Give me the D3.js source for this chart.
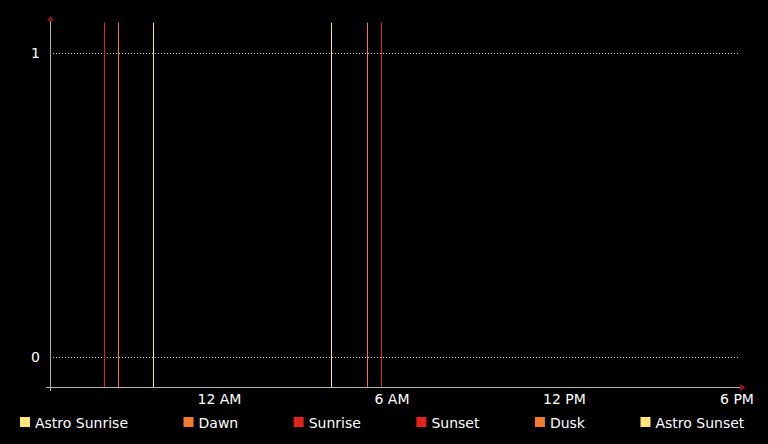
<!DOCTYPE html>
<html><head><meta charset="utf-8">
<script src="https://cdn.jsdelivr.net/npm/d3@7"></script>
<style>html,body{margin:0;padding:0;background:#000;}svg{display:block;}</style>
</head><body>
<svg id="c" width="768" height="444"></svg>
<script>
// ---- data ----
const seriesNames = ["Astro Sunrise","Dawn","Sunrise","Sunset","Dusk","Astro Sunset"];
const seriesColors = ["#ffe57a","#f47a30","#e2231a","#e8221b","#f47a30","#ffe57a"];
const eventTimes = ["2024-06-21T03:47","2024-06-21T05:03","2024-06-21T05:32","2024-06-20T19:54","2024-06-20T20:23","2024-06-20T21:36"];
const xDomain = ["2024-06-20T18:00","2024-06-21T18:00"];
const xTickTimes = ["2024-06-21T00:00","2024-06-21T06:00","2024-06-21T12:00","2024-06-21T18:00"];
const xTickLabels = ["12 AM","6 AM","12 PM","6 PM"];
const yDomain = [-0.1, 1.1];
const yTicks = [0, 1];

(function () {
const parse = d3.isoParse;
const svg = d3.select("#c");
const W = 768, H = 444;
const mLeft = 50, mRight = 740, mTop = 22.6, mBottom = 387;
const font = "DejaVu Sans";

const x = d3.scaleTime().domain(xDomain.map(parse)).range([mLeft, mRight]);
const y = d3.scaleLinear().domain(yDomain).range([mBottom, mTop]);

svg.append("rect").attr("width", W).attr("height", H).attr("fill", "#000");

// grid lines
svg.append("g").selectAll("line").data(yTicks).join("line")
  .attr("x1", mLeft).attr("x2", mRight)
  .attr("y1", d => Math.round(y(d)) + 0.5).attr("y2", d => Math.round(y(d)) + 0.5)
  .attr("stroke", "#cfcfcf").attr("stroke-width", 1).attr("stroke-dasharray", "1,2");

// y tick labels
svg.append("g").selectAll("text").data(yTicks).join("text")
  .attr("x", 40).attr("y", d => y(d)).attr("dy", "0.36em")
  .attr("text-anchor", "end").attr("fill", "#fff")
  .attr("font-family", font).attr("font-size", 14).text(d => d3.format("d")(d));

// event lines
const events = seriesNames.map((n, i) => ({name: n, color: seriesColors[i], t: parse(eventTimes[i])}));
svg.append("g").selectAll("line").data(events).join("line")
  .attr("x1", d => Math.floor(x(d.t)) + 0.5).attr("x2", d => Math.floor(x(d.t)) + 0.5)
  .attr("y1", y(yDomain[1])).attr("y2", y(yDomain[0]))
  .attr("stroke", d => d.color).attr("stroke-width", 1);

// axes
const axisColor = "#b0b0b0";
svg.append("line").attr("x1", mLeft + 0.5).attr("x2", mLeft + 0.5).attr("y1", 19).attr("y2", mBottom + 4)
  .attr("stroke", axisColor);
svg.append("line").attr("x1", mLeft - 4).attr("x2", mRight + 1).attr("y1", mBottom + 0.5).attr("y2", mBottom + 0.5)
  .attr("stroke", axisColor);
svg.append("path").attr("d", `M${mLeft+0.5},15.5 L${mLeft-3},21 L${mLeft+4},21 Z`).attr("fill", "#8a1414");
svg.append("path").attr("d", `M${mRight+6},${mBottom+0.5} L${mRight},${mBottom-3} L${mRight},${mBottom+4} Z`).attr("fill", "#8a1414");

// x tick labels
svg.append("g").selectAll("text").data(xTickTimes).join("text")
  .attr("x", d => x(parse(d)) - 3).attr("y", 404)
  .attr("text-anchor", "middle").attr("fill", "#fff")
  .attr("font-family", font).attr("font-size", 14)
  .text((d, i) => xTickLabels[i]);

// legend
const lg = svg.append("g");
let lx = 20;
seriesNames.forEach((n, i) => {
  lg.append("rect").attr("x", lx).attr("y", 417).attr("width", 10).attr("height", 10).attr("fill", seriesColors[i]);
  const t = lg.append("text").attr("x", lx + 15).attr("y", 428).attr("fill", "#fff")
    .attr("font-family", font).attr("font-size", 14).text(n);
  lx += 15 + t.node().getComputedTextLength() + 55.5;
});
})();
</script>
</body></html>
